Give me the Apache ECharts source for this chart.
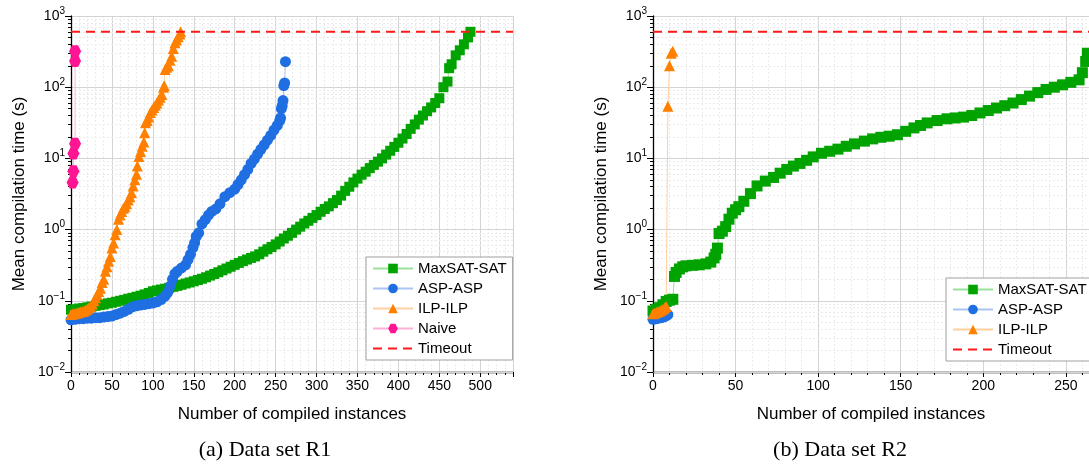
<!DOCTYPE html>
<html><head><meta charset="utf-8">
<script src="https://cdn.jsdelivr.net/npm/echarts@6/dist/echarts.min.js"></script>
<style>html,body{margin:0;padding:0;background:#fff}#c{width:1089px;height:469px}</style>
</head><body><div id="c"></div>
<script>
// ---------- data ----------
const TIMEOUT = 600;
const xTicksLeft = [0, 50, 100, 150, 200, 250, 300, 350, 400, 450, 500];
const xTicksRight = [0, 50, 100, 150, 200, 250];
const yTickExps = [-2, -1, 0, 1, 2, 3];

// R1 (left)
const r1SatX = [0,5,10,15,20,25,30,35,40,45,50,55,60,65,70,75,80,85,90,95,100,105,110,115,120,125,130,135,140,145,150,155,160,165,170,175,180,185,190,195,200,205,210,215,220,225,230,235,240,245,250,255,260,265,270,275,280,285,290,295,300,305,310,315,320,325,330,335,340,345,350,355,360,365,370,375,380,385,390,395,400,405,410,415,420,425,430,435,440,445,450,455,460,462,465,470,475,480,485,488];
const r1SatY = [0.075,0.076,0.078,0.079,0.081,0.083,0.085,0.087,0.089,0.092,
  0.094,0.097,0.100,0.103,0.107,0.110,0.114,0.118,0.123,0.129,
  0.136,0.140,0.144,0.148,0.152,0.157,0.162,0.168,0.175,0.181,
  0.188,0.196,0.204,0.214,0.226,0.238,0.252,0.268,0.284,0.301,
  0.32,0.34,0.36,0.38,0.40,0.42,0.45,0.49,0.53,0.57,
  0.62,0.68,0.75,0.82,0.90,1.00,1.10,1.22,1.33,1.46,
  1.60,1.78,1.95,2.12,2.35,2.6,3.0,3.5,4.0,4.6,
  5.2,5.9,6.5,7.3,8.1,9.0,10.0,11.3,12.8,14.5,
  16.6,19,22,26,30,35,40,46,52,60,
  70,100,120,185,210,280,330,400,500,600];
const r1AspX = [0,5,10,15,20,25,30,35,40,45,50,55,60,65,70,75,80,85,90,95,100,105,110,115,118,121,124,127,130,135,140,143,146,149,151,153,156,160,164,168,172,177,182,188,194,200,204,208,212,216,220,224,228,232,236,240,244,248,252,255,256,257,258,259,260,261,262];
const r1AspY = [0.054,0.055,0.056,0.056,0.057,0.057,0.058,0.058,0.059,0.060,
  0.061,0.064,0.067,0.071,0.076,0.082,0.085,0.087,0.089,0.091,
  0.093,0.097,0.104,0.116,0.13,0.16,0.2,0.24,0.26,0.29,0.32,
  0.38,0.45,0.56,0.65,0.80,0.90,1.2,1.38,1.6,1.8,1.95,2.3,2.9,3.3,3.7,
  4.3,5.0,5.9,7.0,8.5,9.8,11.5,13.4,15.5,18,21,25,29,
  34,37,50,55,65,105,115,228];
const r1IlpX = [0,2,4,6,8,10,12,14,16,18,20,22,24,26,28,30,32,34,36,38,40,42,44,46,48,50,52,54,56,58,60,62,64,66,68,70,72,74,76,78,80,81,83,85,87,89,90,91,93,95,97,99,101,103,105,107,109,111,113,114,115,117,119,121,123,125,127,129,131,133,134];
const r1IlpY = [0.064,0.065,0.066,0.067,0.068,0.069,0.070,0.071,0.072,0.074,
  0.077,0.080,0.083,0.090,0.100,0.110,0.123,0.135,0.15,0.18,
  0.20,0.26,0.30,0.36,0.42,0.55,0.65,0.85,1.0,1.4,
  1.6,1.8,2.0,2.1,2.3,2.6,2.9,3.3,4.1,5.0,6.0,
  7.8,10.6,12.5,14.8,17,23,31.6,34,38,44,48,52,56,60,66,72,79,100,105,
  177,190,200,240,273,350,420,460,510,560,600];
const r1NaiveX = [2,3,3,5,5,5];
const r1NaiveY = [4.6,6.6,11.7,16,233,320];

// R2 (right)
const r2SatX = [0,2,4,6,8,10,12,13,14,16,18,20,24,28,32,35,37,38,39,40,42,44,46,48,50,52,55,59,63,68,73,77,81,85,89,93,97,102,107,112,117,122,128,133,138,143,148,153,158,162,166,172,178,183,188,193,198,203,208,213,218,223,228,233,238,243,248,253,258,260,262,263];
const r2SatY = [0.072,0.076,0.080,0.088,0.098,0.102,0.105,0.22,0.25,0.28,0.30,0.31,
  0.315,0.32,0.33,0.35,0.40,0.45,0.55,0.88,0.95,1.1,1.4,1.7,1.9,2.1,2.5,3.2,4.1,4.8,
  5.4,6.2,7.0,7.8,8.5,9.4,10.5,11.8,12.6,13.5,14.8,16,17.5,18.8,19.8,20.5,21.5,
  24,26.8,29,31.5,34,36,37,38,40,43.5,47,51,55,60,67,75,84,93,100,108,117,127,160,230,300];
const r2AspX = [0,1,2,3,4,5,6,7,8,9];
const r2AspY = [0.055,0.056,0.056,0.057,0.058,0.058,0.059,0.060,0.062,0.064];
const r2IlpX = [0,1,2,3,4,5,6,7,8,9,10,11,12];
const r2IlpY = [0.066,0.067,0.069,0.070,0.072,0.074,0.076,0.079,0.083,54,200,300,320];

// ---------- chart ----------
const FONT = 'Liberation Sans, Arial, sans-serif';
const XMAX_L = 540, XMAX_R = 264;
const C = {
  sat: ['#00a300', '#9be09b'],
  asp: ['#1f6fe3', '#a9c6f2'],
  ilp: ['#ff8000', '#ffd0a0'],
  naive: ['#ff1493', '#ffb0d8'],
  to: '#ff1a1a'
};
const HEX = 'path://M25,0 L75,0 L100,43.3 L75,86.6 L25,86.6 L0,43.3 Z';
// minor log ticks 2..9 x 10^e (axis decoration)
const minorLog = [];
for (let e = -2; e < 3; e++) for (let m = 2; m <= 9; m++) minorLog.push(+(m * Math.pow(10, e)).toPrecision(3));

function pairs(xs, ys) { return xs.map((x, i) => [x, ys[i]]); }
function ser(name, xs, ys, idx, symbol, size, col) {
  return {
    name, type: 'line', xAxisIndex: idx, yAxisIndex: idx * 2,
    data: pairs(xs, ys), symbol, symbolSize: size, showSymbol: true, showAllSymbol: true,
    itemStyle: { color: col[0] }, lineStyle: { color: col[1], width: 1 },
    emphasis: { disabled: true }, animation: false
  };
}
function toSer(idx, xmax) {
  return {
    name: 'Timeout', type: 'line', xAxisIndex: idx, yAxisIndex: idx * 2,
    data: [[0, TIMEOUT], [xmax, TIMEOUT]], symbol: 'none',
    itemStyle: { color: C.to, opacity: 0 },
    lineStyle: { color: C.to, width: 2, type: [9, 6] }, animation: false, z: 5
  };
}
function xAxis(idx, max, ticks) {
  return {
    type: 'value', gridIndex: idx, min: 0, max: max, interval: ticks[1] - ticks[0],
    name: 'Number of compiled instances', nameLocation: 'middle', nameGap: 34,
    nameTextStyle: { fontFamily: FONT, fontSize: 17, color: '#000' },
    axisLine: { show: true, onZero: false, lineStyle: { color: '#000', width: 1.3 } },
    axisTick: { show: true, length: 5, lineStyle: { color: '#000' } },
    minorTick: { show: true, splitNumber: 5, length: 3, lineStyle: { color: '#000' } },
    axisLabel: { fontFamily: FONT, fontSize: 14, color: '#000', margin: 7, showMaxLabel: false,
      formatter: v => ticks.indexOf(v) >= 0 ? String(v) : '' },
    splitLine: { show: true, lineStyle: { color: '#d4d4d4', width: 1 } },
    minorSplitLine: { show: true, lineStyle: { color: '#ebebeb', width: 1, type: [2, 2] } }
  };
}
function yAxis(idx) {
  return {
    type: 'log', logBase: 10, gridIndex: idx, min: 0.01, max: 1000, position: 'left',
    name: 'Mean compilation time (s)', nameLocation: 'middle', nameGap: 43,
    nameTextStyle: { fontFamily: FONT, fontSize: 17, color: '#000' },
    axisLine: { show: true, lineStyle: { color: '#000', width: 1.3 } },
    axisTick: { show: true, length: 6, lineStyle: { color: '#000' } },
    axisLabel: {
      margin: 6,
      formatter: v => {
        const e = Math.round(Math.log10(v));
        if (yTickExps.indexOf(e) < 0) return '';
        return '{b|10}{s|' + (e < 0 ? '\u2212' + (-e) : e) + '}';
      },
      rich: {
        b: { fontFamily: FONT, fontSize: 14, color: '#000', lineHeight: 20 },
        s: { fontFamily: FONT, fontSize: 10, color: '#000', lineHeight: 10, verticalAlign: 'top' }
      }
    },
    splitLine: { show: true, lineStyle: { color: '#d4d4d4', width: 1 } },
    z: 3
  };
}
function yMinorAxis(idx) {
  return {
    type: 'log', logBase: 10, gridIndex: idx, min: 0.01, max: 1000, position: 'left',
    axisLine: { show: false },
    axisTick: { show: true, length: 3, customValues: minorLog, lineStyle: { color: '#000' } },
    axisLabel: { show: false },
    splitLine: { show: true, lineStyle: { color: '#ebebeb', width: 1, type: [2, 2] } },
    z: 1
  };
}
function legend(left, top, width, names) {
  return {
    left, top, width, orient: 'vertical',
    data: names.map(n => n === 'Timeout' ? { name: n, itemStyle: { opacity: 0 } } : n),
    backgroundColor: '#fff', borderColor: '#a0a0a0', borderWidth: 1, borderRadius: 0,
    padding: [4, 6, 4, 6], itemGap: 5, itemWidth: 40, itemHeight: 12,
    textStyle: { fontFamily: FONT, fontSize: 15, color: '#000' },
    selectedMode: false
  };
}

const option = {
  animation: false,
  backgroundColor: '#fff',
  grid: [
    { left: 71, top: 16, width: 442, height: 356, containLabel: false },
    { left: 653, top: 16, width: 436, height: 356, containLabel: false }
  ],
  xAxis: [xAxis(0, XMAX_L, xTicksLeft), xAxis(1, XMAX_R, xTicksRight)],
  yAxis: [yAxis(0), yMinorAxis(0), yAxis(1), yMinorAxis(1)],
  legend: [
    legend(366, 257, 140, ['MaxSAT-SAT', 'ASP-ASP', 'ILP-ILP', 'Naive', 'Timeout']),
    legend(946, 278, 138, ['MaxSAT-SAT', 'ASP-ASP', 'ILP-ILP', 'Timeout'])
  ],
  series: [
    ser('MaxSAT-SAT', r1SatX, r1SatY, 0, 'rect', 10, C.sat),
    ser('ASP-ASP', r1AspX, r1AspY, 0, 'circle', 11, C.asp),
    ser('ILP-ILP', r1IlpX, r1IlpY, 0, 'triangle', 11, C.ilp),
    ser('Naive', r1NaiveX, r1NaiveY, 0, HEX, 12, C.naive),
    toSer(0, XMAX_L),
    ser('MaxSAT-SAT', r2SatX, r2SatY, 1, 'rect', 11, C.sat),
    ser('ASP-ASP', r2AspX, r2AspY, 1, 'circle', 11, C.asp),
    ser('ILP-ILP', r2IlpX, r2IlpY, 1, 'triangle', 11, C.ilp),
    toSer(1, XMAX_R)
  ],
  graphic: [
    { type: 'text', x: 265, y: 450, style: { text: '(a) Data set R1', fontFamily: 'Liberation Serif, serif', fontSize: 22, fill: '#000', align: 'center', verticalAlign: 'middle' } },
    { type: 'text', x: 840, y: 450, style: { text: '(b) Data set R2', fontFamily: 'Liberation Serif, serif', fontSize: 22, fill: '#000', align: 'center', verticalAlign: 'middle' } }
  ]
};
const chart = echarts.init(document.getElementById('c'), null, { renderer: 'canvas' });
chart.setOption(option);
</script>
</body></html>
